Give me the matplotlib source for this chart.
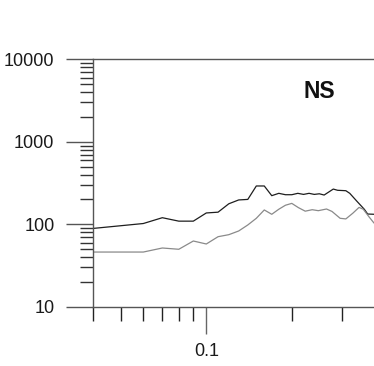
import matplotlib
matplotlib.use("Agg")
import matplotlib.pyplot as plt
from matplotlib.ticker import LogLocator, NullFormatter, FixedLocator, FixedFormatter

plt.rcParams['font.family'] = ['Liberation Sans', 'DejaVu Sans']

# Black series (upper)
black_x = [0.04, 0.06, 0.07, 0.08, 0.09, 0.10, 0.11, 0.12, 0.13, 0.14, 0.15, 0.16,
           0.17, 0.18, 0.19, 0.20, 0.21, 0.22, 0.23, 0.24, 0.25, 0.26, 0.28, 0.29,
           0.31, 0.32, 0.34, 0.36, 0.37, 0.39, 0.40]
black_y = [89, 102, 120, 109, 109, 137, 140, 177, 197, 200, 291, 291,
           222, 237, 228, 228, 237, 230, 237, 230, 234, 226, 267, 258,
           255, 237, 188, 152, 133, 132, 132]

# Gray series (lower)
gray_x = [0.04, 0.06, 0.07, 0.08, 0.09, 0.10, 0.11, 0.12, 0.13, 0.14, 0.15, 0.16,
          0.17, 0.18, 0.19, 0.20, 0.211, 0.223, 0.236, 0.248, 0.265, 0.277, 0.296,
          0.31, 0.328, 0.345, 0.357, 0.374, 0.389, 0.40]
gray_y = [46, 46, 51.5, 49.7, 62.6, 57.6, 70.6, 74.7, 82.8, 98, 118, 149,
          132, 152, 170, 179, 159, 144, 150, 146, 153, 143, 118,
          116, 136, 160, 152, 123, 104, 95]

x_major = [0.1]
x_minor = [0.04, 0.05, 0.06, 0.07, 0.08, 0.09, 0.2, 0.3]
y_ticks = [10, 100, 1000, 10000]
y_labels = ["10", "100", "1000", "10000"]
panel_label = "NS"

W, H = 374, 366
fig = plt.figure(figsize=(W / 100, H / 100), dpi=100)
left, bottom = 93.3 / W, (H - 306.7) / H
width, height = 311.5 / W, 247.4 / H
ax = fig.add_axes([left, bottom, width, height])
ax.set_xscale('log')
ax.set_yscale('log')
ax.set_xlim(0.04, 0.5)
ax.set_ylim(10, 10000)

ax.plot(black_x, black_y, color='#1e1e1e', lw=0.9)
ax.plot(gray_x, gray_y, color='#8a8a8a', lw=0.9)

for s in ['left', 'top', 'bottom']:
    ax.spines[s].set_color('#555555')
    ax.spines[s].set_linewidth(1.0)
ax.spines['right'].set_visible(False)

ax.xaxis.set_major_locator(FixedLocator(x_major))
ax.xaxis.set_major_formatter(FixedFormatter(["0.1"]))
ax.xaxis.set_minor_locator(FixedLocator(x_minor))
ax.xaxis.set_minor_formatter(NullFormatter())
ax.yaxis.set_major_locator(FixedLocator(y_ticks))
ax.yaxis.set_major_formatter(FixedFormatter(y_labels))
ax.yaxis.set_minor_locator(LogLocator(base=10, subs=range(2, 10)))
ax.yaxis.set_minor_formatter(NullFormatter())

ax.tick_params(axis='both', which='major', direction='out', length=19.5, width=1.0,
               color='#555555', labelsize=13, labelcolor='#1a1a1a', pad=7.5)
ax.tick_params(axis='x', which='minor', direction='out', length=10, width=1.0,
               color='#222222')
ax.tick_params(axis='x', which='major', color='#666666', pad=6.5)
ax.tick_params(axis='y', which='minor', direction='out', length=9.5, width=1.0,
               color='#333333')
ax.tick_params(axis='y', which='major', pad=8.5)

fig.text(319.5 / W, 1 - 92 / H, panel_label, fontsize=16.5, fontweight='bold',
         ha='center', va='center', color='#111111')

fig.savefig('out.png', dpi=100)
